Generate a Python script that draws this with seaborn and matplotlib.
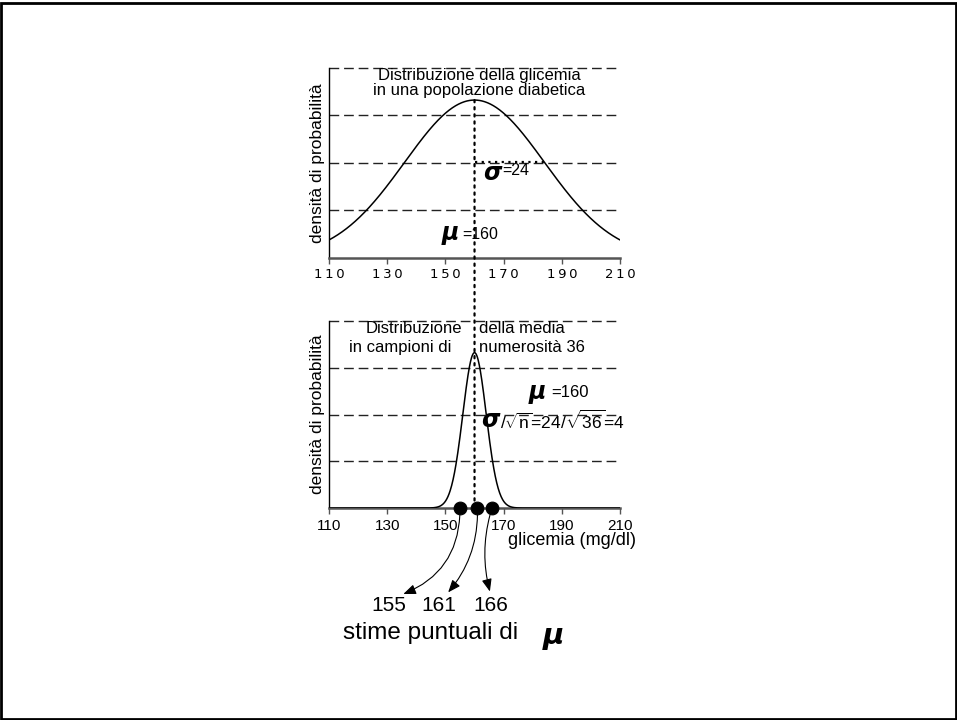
import numpy as np
import pandas as pd
import seaborn as sns
import matplotlib.pyplot as plt
from matplotlib.patches import ConnectionPatch, Rectangle

# values shown on the chart
mu = 160
sigma = 24
n = 36
x_ticks = [110, 130, 150, 170, 190, 210]
top_grid = [0.005, 0.010, 0.015, 0.020]
bottom_grid = [0.03, 0.06, 0.09, 0.12]
estimates = [155, 161, 166]
ylab = "densità di probabilità"

sns.set_style("white")
plt.rcParams["font.family"] = ["Liberation Sans", "DejaVu Sans"]
plt.rcParams["text.color"] = "black"
plt.rcParams["axes.labelcolor"] = "black"
plt.rcParams["xtick.color"] = "black"
plt.rcParams["mathtext.fontset"] = "custom"
plt.rcParams["mathtext.rm"] = "Liberation Sans"
plt.rcParams["mathtext.it"] = "Liberation Sans:italic"

# normal densities for the population and for the sample mean
se = sigma / np.sqrt(n)
glic = np.linspace(110, 210, 801)
df = pd.DataFrame({
    "glicemia": glic,
    "pop": np.exp(-0.5 * ((glic - mu) / sigma) ** 2) / (sigma * np.sqrt(2 * np.pi)),
    "media": np.exp(-0.5 * ((glic - mu) / se) ** 2) / (se * np.sqrt(2 * np.pi)),
})
peak_pop = df["pop"].max()
sig_level = np.exp(-0.5) / (sigma * np.sqrt(2 * np.pi))

fig = plt.figure(figsize=(9.57, 7.2), dpi=100)
ax1 = fig.add_axes([0.3438, 0.6417, 0.3041, 0.2639])
ax2 = fig.add_axes([0.3438, 0.2944, 0.3041, 0.2597])

dash = (0, (7, 3.5))
for ax, col, grid, top in [(ax1, "pop", top_grid, 0.02), (ax2, "media", bottom_grid, 0.12)]:
    for g in grid:
        ax.axhline(g, color="#222222", lw=1, ls=dash, zorder=1, clip_on=False)
    sns.lineplot(data=df, x="glicemia", y=col, ax=ax, color="black", lw=1.1, zorder=3)
    ax.set_xlim(110, 210)
    ax.set_ylim(0, top)
    ax.set_yticks([])
    ax.set_xticks(x_ticks)
    ax.set_xlabel("")
    ax.set_ylabel(ylab, fontsize=12.5, labelpad=3)
    sns.despine(ax=ax)
    ax.spines["left"].set_color("black")
    ax.spines["left"].set_linewidth(1)
    ax.spines["bottom"].set_color("#555555")
    ax.spines["bottom"].set_linewidth(1.8)
    ax.tick_params(axis="x", direction="out", length=4, width=1, color="#555555",
                   bottom=True, labelcolor="black")

# top axis uses a wide, spaced-out numeral style
ax1.set_xticklabels(["\u2009".join(str(t)) for t in x_ticks], fontsize=9.5,
                    family="DejaVu Sans")
ax1.tick_params(axis="x", pad=3)
ax2.set_xticklabels([str(t) for t in x_ticks], fontsize=11)
ax2.tick_params(axis="x", pad=4)

# top panel texts
ax1.text(161.5, 0.0184, "Distribuzione della glicemia\nin una popolazione diabetica",
         ha="center", va="center", fontsize=12, linespacing=1.05)
ax1.plot([mu, mu + sigma], [sig_level, sig_level], color="black", lw=1.6,
         ls=(0, (1, 2)), zorder=4)
ax1.text(166.0, 0.0089, "σ", ha="center", va="center", fontsize=17,
         fontweight="bold", style="italic", family="DejaVu Sans")
ax1.text(169.6, 0.0092, "=24", ha="left", va="center", fontsize=11.5)
ax1.text(151.6, 0.0026, "μ", ha="center", va="center", fontsize=17,
         fontweight="bold", style="italic", family="DejaVu Sans")
ax1.text(155.8, 0.0025, "=160", ha="left", va="center", fontsize=11.5)

# bottom panel texts
ax2.text(139.2, 0.1155, "Distribuzione", ha="center", va="center", fontsize=12)
ax2.text(134.4, 0.1033, "in campioni di", ha="center", va="center", fontsize=12)
ax2.text(161.7, 0.1155, "della media", ha="left", va="center", fontsize=12)
ax2.text(161.7, 0.1033, "numerosità 36", ha="left", va="center", fontsize=12)
ax2.text(181.5, 0.0744, "μ", ha="center", va="center", fontsize=17,
         fontweight="bold", style="italic", family="DejaVu Sans")
ax2.text(186.2, 0.0744, "=160", ha="left", va="center", fontsize=12)
ax2.text(165.5, 0.0565, "σ", ha="center", va="center", fontsize=17,
         fontweight="bold", style="italic", family="DejaVu Sans")
ax2.text(168.8, 0.0565, r"$/\sqrt{\mathrm{n}}$=24$/\sqrt{36}$=4", ha="left",
         va="center", fontsize=12.5)

ax2.annotate("glicemia (mg/dl)", xy=(171.5, 0), xycoords="data", xytext=(0, -32),
             textcoords="offset pixels", ha="left", va="center", fontsize=13,
             annotation_clip=False)

# dotted line through the mean, across both panels
con = ConnectionPatch(xyA=(mu, peak_pop), coordsA=ax1.transData,
                      xyB=(mu, 0), coordsB=ax2.transData,
                      color="black", lw=1.6, ls=(0, (1, 2.2)), zorder=4)
fig.add_artist(con)

# point estimates on the sampling distribution
sns.scatterplot(x=estimates, y=[0] * len(estimates), ax=ax2, s=85, color="black",
                edgecolor="black", zorder=6, clip_on=False, legend=False)

offsets = [(-71, -97), (-39, -97), (-1, -97)]
rels = [0.8, 0.7, 0.5]
rads = [0.35, 0.2, -0.15]
for est, (dx, dy), rx, rad in zip(estimates, offsets, rels, rads):
    ax2.annotate(str(est), xy=(est, 0), xycoords="data", xytext=(dx, dy),
                 textcoords="offset pixels", ha="center", va="center", fontsize=15,
                 annotation_clip=False,
                 arrowprops=dict(arrowstyle="<|-,head_length=0.5,head_width=0.2",
                                 color="black", lw=0.8, shrinkA=3, shrinkB=5,
                                 relpos=(rx, 1.0), patchA=None,
                                 connectionstyle=f"arc3,rad={rad}"))

fig.text(343 / 957, 1 - 633 / 720, "stime puntuali di", ha="left", va="center",
         fontsize=17.5)
fig.text(553 / 957, 1 - 636 / 720, "μ", ha="center", va="center", fontsize=21,
         fontweight="bold", style="italic", family="DejaVu Sans")

fig.patches.append(Rectangle((0.001, 0.002), 0.998, 0.994, transform=fig.transFigure,
                             fill=False, lw=2, edgecolor="black"))

fig.savefig("out.png", dpi=100)
